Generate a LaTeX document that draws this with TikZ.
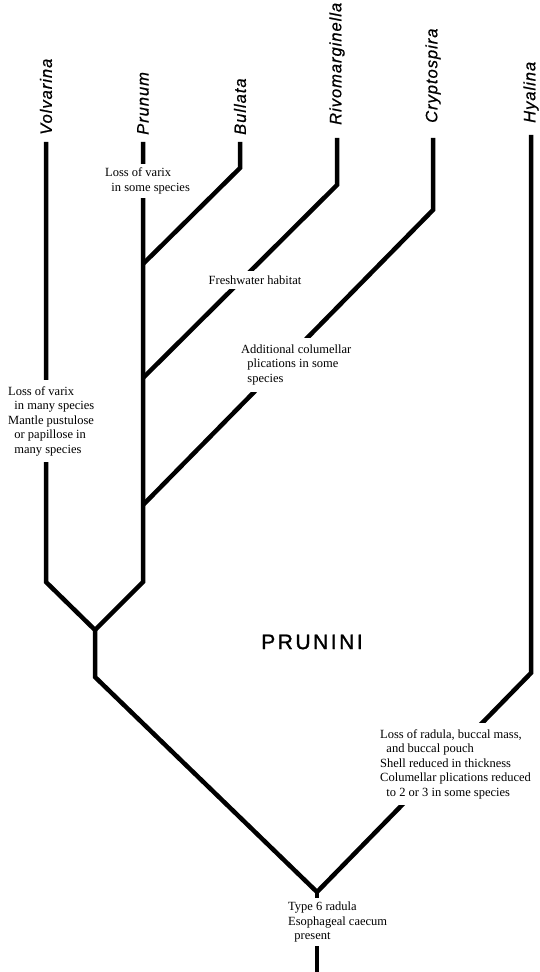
\documentclass[tikz,border=0pt]{standalone}
\usepackage{fontspec}
\setmainfont{Liberation Serif}
\newfontfamily\taxonfont[LetterSpace=6,FakeBold=0.8]{Liberation Sans}
\newfontfamily\tribefont[LetterSpace=12,FakeBold=1.2]{Liberation Sans}

\begin{document}
\begin{tikzpicture}[x=1pt,y=1pt,
  branch/.style={line width=4.5pt},
  taxon/.style={rotate=90,anchor=west,inner sep=0pt,font=\taxonfont\itshape\fontsize{16.5}{18}\selectfont},
  note/.style={fill=white,align=left,anchor=west,inner xsep=2pt,inner ysep=6pt,font=\fontsize{12.5}{14.5}\selectfont}]
  \useasboundingbox (0,0) rectangle (540,972);
  % tips of the branches
  \coordinate (tVol) at (46,830);
  \coordinate (tPru) at (143,830);
  \coordinate (tBul) at (240,830);
  \coordinate (tRiv) at (337,834);
  \coordinate (tCry) at (433,834);
  \coordinate (tHya) at (531,837);
  % bends and joins
  \coordinate (bVol) at (46,390);
  \coordinate (bPru) at (143,390);
  \coordinate (bBul) at (240,804);
  \coordinate (jBul) at (143,708);
  \coordinate (bRiv) at (337,787);
  \coordinate (jRiv) at (143,594);
  \coordinate (bCry) at (433,762);
  \coordinate (jCry) at (143,467);
  \coordinate (bHya) at (531,299);
  \coordinate (jVP) at (95,342);
  \coordinate (jStem) at (95,295);
  \coordinate (root) at (317,80);
  \coordinate (base) at (317,0);

  \draw[branch] (tVol) -- (bVol) -- (jVP) -- (bPru) -- (tPru);
  \draw[branch] (jVP) -- (jStem) -- (root) -- (bHya) -- (tHya);
  \draw[branch] (root) -- (base);
  \draw[branch] (tBul) -- (bBul) -- (jBul);
  \draw[branch] (tRiv) -- (bRiv) -- (jRiv);
  \draw[branch] (tCry) -- (bCry) -- (jCry);

  \node[taxon] (Vol) at (46,837) {Volvarina};
  \node[taxon] (Pru) at (143,837) {Prunum};
  \node[taxon] (Bul) at (240,837) {Bullata};
  \node[taxon] (Riv) at (337,847) {Rivomarginella};
  \node[taxon] (Cry) at (433,849) {Cryptospira};
  \node[taxon] (Hya) at (531,849) {Hyalina};

  \node[note,inner ysep=4pt] (nPru) at (103,791) {Loss of varix\\\hspace*{0.5em}in some species};
  \node[note] (nVol) at (6,551) {Loss of varix\\\hspace*{0.5em}in many species\\Mantle pustulose\\\hspace*{0.5em}or papillose in\\\hspace*{0.5em}many species};
  \node[note,anchor=center,inner ysep=5pt] (nRiv) at (255,692) {Freshwater habitat};
  \node[note,inner ysep=7pt] (nCry) at (239,607) {Additional columellar\\\hspace*{0.5em}plications in some\\\hspace*{0.5em}species};
  \node[note] (nHya) at (378,208) {Loss of radula, buccal mass,\\\hspace*{0.5em}and buccal pouch\\Shell reduced in thickness\\Columellar plications reduced\\\hspace*{0.5em}to 2 or 3 in some species};
  \node[note,inner ysep=4pt] (nRoot) at (286,50) {Type 6 radula\\Esophageal caecum\\\hspace*{0.5em}present};

  \node[font=\tribefont\fontsize{21}{24}\selectfont] (tribe) at (312,330) {PRUNINI};
\end{tikzpicture}
\end{document}
